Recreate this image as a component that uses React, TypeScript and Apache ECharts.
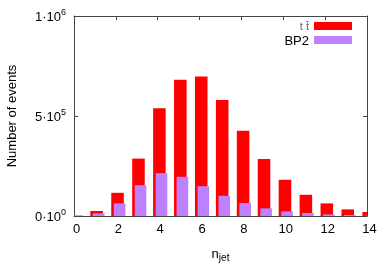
import React, { useEffect, useRef } from "react";
import * as echarts from "echarts";

const nJet = [0, 1, 2, 3, 4, 5, 6, 7, 8, 9, 10, 11, 12, 13, 14];
const ttbar = [1000, 25000, 116000, 287000, 539000, 681000, 698000, 580000, 426000, 285000, 181000, 106000, 63000, 33000, 20000];
const bp2 = [3000, 13000, 63000, 154000, 214000, 196000, 149000, 101000, 65000, 38000, 23000, 15000, 8000, 5000, 2000];
const seriesNames = ["tt", "BP2"];
const xTicks = { min: 0, max: 14, interval: 2 };
const yTicks = { min: 0, max: 1000000, interval: 500000 };

const FONT = "Liberation Sans, Arial, Helvetica, sans-serif";
const AX = "#444";

function sciLabel(v: number): string {
  if (v === 0) return "0·10{sup|0}";
  const e = Math.floor(Math.log10(v));
  const m = Math.round(v / Math.pow(10, e));
  return `${m}·10{sup|${e}}`;
}

function barRenderer(offset: number, width: number) {
  return (params: any, api: any) => {
    const x = api.value(0);
    const y = api.value(1);
    const p0 = api.coord([x + offset - width / 2, y]);
    const p1 = api.coord([x + offset + width / 2, 0]);
    const cs = params.coordSys;
    const clipped = echarts.graphic.clipRectByRect(
      { x: p0[0], y: p0[1], width: p1[0] - p0[0], height: p1[1] - p0[1] },
      { x: cs.x, y: cs.y, width: cs.width, height: cs.height }
    );
    if (!clipped) return null;
    return { type: "rect", shape: clipped, style: { fill: api.visual("color") } };
  };
}

export default function App() {
  const ref = useRef<HTMLDivElement>(null);
  useEffect(() => {
    if (!ref.current) return;
    const chart = echarts.init(ref.current, null, { renderer: "svg" });
    const axisCommon = {
      axisLine: { show: true, onZero: false, lineStyle: { color: AX, width: 1 } },
      axisTick: { show: true, inside: true, length: 4, lineStyle: { color: AX } },
      splitLine: { show: false },
    };
    chart.setOption({
      animation: false,
      textStyle: { fontFamily: FONT },
      grid: { left: 74, right: 25, top: 16, bottom: 58, containLabel: false, outerBoundsMode: "none" },
      legend: {
        orient: "vertical",
        right: 40,
        top: 19.5,
        padding: 0,
        align: "right",
        itemWidth: 38,
        itemHeight: 8,
        itemGap: 1,
        icon: "rect",
        textStyle: {
          fontSize: 13,
          lineHeight: 13,
          color: "#000",
          fontFamily: FONT,
          rich: { g: { fontSize: 11, lineHeight: 13, color: "#666", fontFamily: FONT } },
        },
        formatter: (name: string) => (name === "tt" ? "{g|t t\u0304}" : name),
        data: seriesNames,
      },
      xAxis: [
        {
          type: "value",
          ...xTicks,
          position: "bottom",
          ...axisCommon,
          axisLabel: { fontSize: 13, color: "#000", margin: 6, padding: [0, 0, 0, 5], fontFamily: FONT },
          name: "n{sub|jet}",
          nameLocation: "middle",
          nameGap: 29,
          nameTextStyle: {
            fontSize: 13,
            color: "#000",
            fontFamily: FONT,
            rich: { sub: { fontSize: 10, padding: [7, 0, 0, 0], fontFamily: FONT } },
          },
        },
        {
          type: "value",
          ...xTicks,
          position: "top",
          ...axisCommon,
          axisLabel: { show: false },
        },
      ],
      yAxis: [
        {
          type: "value",
          ...yTicks,
          position: "left",
          ...axisCommon,
          axisLabel: {
            fontSize: 13,
            color: "#000",
            margin: 8,
            fontFamily: FONT,
            formatter: (v: number) => sciLabel(v),
            rich: { sup: { fontSize: 9, padding: [0, 0, 9, 0], fontFamily: FONT } },
          },
          name: "Number of events",
          nameLocation: "middle",
          nameGap: 56,
          nameTextStyle: { fontSize: 13, color: "#000", fontFamily: FONT },
        },
        {
          type: "value",
          ...yTicks,
          position: "right",
          ...axisCommon,
          axisLabel: { show: false },
        },
      ],
      series: [
        {
          name: seriesNames[0],
          type: "custom",
          xAxisIndex: 0,
          yAxisIndex: 0,
          data: nJet.map((n, i) => [n, ttbar[i]]),
          encode: { x: 0, y: 1 },
          renderItem: barRenderer(0.08, 0.6),
          itemStyle: { color: "#ff0000" },
        },
        {
          name: seriesNames[1],
          type: "custom",
          xAxisIndex: 0,
          yAxisIndex: 0,
          data: nJet.map((n, i) => [n, bp2[i]]),
          encode: { x: 0, y: 1 },
          renderItem: barRenderer(0.18, 0.555),
          itemStyle: { color: "#bf80ff" },
        },
      ],
    });
    return () => chart.dispose();
  }, []);
  return <div ref={ref} style={{ position: "fixed", left: 0, top: 0, width: 392, height: 274 }} />;
}
